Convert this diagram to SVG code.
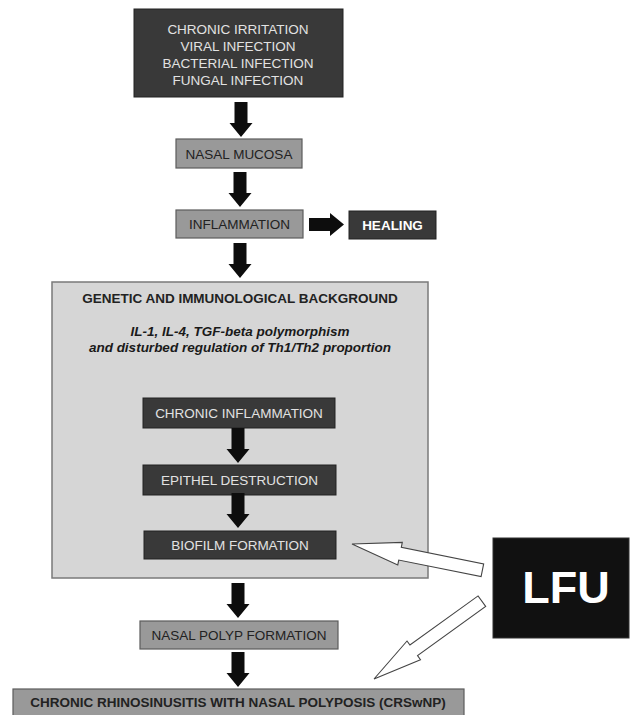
<svg xmlns="http://www.w3.org/2000/svg" xmlns:xlink="http://www.w3.org/1999/xlink" width="633" height="715" viewBox="0 0 633 715">
<style>
  text { font-family: "Liberation Sans", Arial, sans-serif; font-size: 13.5px; text-anchor: middle; }
  .dark { fill: #393939; stroke: #222; stroke-width: 1; }
  .gray { fill: #999; stroke: #5c5c5c; stroke-width: 1.2; }
  .bg { fill: #d6d6d6; stroke: #7a7a7a; stroke-width: 1.5; }
  .lt { fill: #e2e2e2; }
  .dk { fill: #222; }
  .b { font-weight: bold; }
  .bi { font-weight: bold; font-style: italic; fill: #1a1a1a; }
  .solid { fill: #0d0d0d; }
  .hollow { fill: #fff; stroke: #444; stroke-width: 1.1; stroke-linejoin: miter; }
</style>
<defs>
  <path id="darr" d="M-6.5,-35 H6.5 V-14 H11.5 L0,0 L-11.5,-14 H-6.5 Z"/>
  <path id="harr" d="M0,0 L-49,-11.5 L-49,-6.5 L-133,-6.5 L-133,6.5 L-49,6.5 L-49,11.5 Z"/>
</defs>
<rect width="633" height="715" fill="#fff"/>

<g id="bg-box">
  <rect class="bg" x="52" y="282" width="376" height="296"/>
  <text class="b dk" x="240" y="303">GENETIC AND IMMUNOLOGICAL BACKGROUND</text>
  <text class="bi" x="240" y="336">IL-1, IL-4, TGF-beta polymorphism</text>
  <text class="bi" x="240" y="352">and disturbed regulation of Th1/Th2 proportion</text>
</g>

<g id="causes">
  <rect class="dark" x="134" y="9" width="209" height="88"/>
  <text class="lt" x="238" y="33.5">CHRONIC IRRITATION</text>
  <text class="lt" x="238" y="50.5">VIRAL INFECTION</text>
  <text class="lt" x="238" y="67.5">BACTERIAL INFECTION</text>
  <text class="lt" x="238" y="84.5">FUNGAL INFECTION</text>
</g>

<g id="nasal-mucosa">
  <rect class="gray" x="176" y="139" width="126" height="29"/>
  <text class="dk" x="239" y="158.5">NASAL MUCOSA</text>
</g>

<g id="inflammation">
  <rect class="gray" x="176" y="210" width="127" height="28"/>
  <text class="dk" x="239.5" y="229">INFLAMMATION</text>
</g>

<g id="healing">
  <rect class="dark" x="349" y="211" width="87" height="28"/>
  <text class="b" fill="#fff" x="392.5" y="230">HEALING</text>
</g>

<g id="chronic-inflammation">
  <rect class="dark" x="143" y="398" width="192" height="30"/>
  <text class="lt" x="239" y="418">CHRONIC INFLAMMATION</text>
</g>

<g id="epithel-destruction">
  <rect class="dark" x="143" y="465" width="193" height="30"/>
  <text class="lt" x="239.5" y="485">EPITHEL DESTRUCTION</text>
</g>

<g id="biofilm-formation">
  <rect class="dark" x="144" y="531" width="192" height="28"/>
  <text class="lt" x="240" y="550">BIOFILM FORMATION</text>
</g>

<g id="nasal-polyp-formation">
  <rect class="gray" x="140" y="621" width="198" height="28"/>
  <text class="dk" x="239" y="640">NASAL POLYP FORMATION</text>
</g>

<g id="crswnp">
  <rect class="gray" x="13" y="689" width="451" height="30"/>
  <text class="b dk" x="238" y="707">CHRONIC RHINOSINUSITIS WITH NASAL POLYPOSIS (CRSwNP)</text>
</g>

<g id="lfu">
  <rect x="493" y="538" width="136" height="100" fill="#111" stroke="#333" stroke-width="1"/>
  <text class="b" fill="#fff" x="566" y="603" style="font-size:45px">LFU</text>
</g>

<g id="connectors">
  <use xlink:href="#darr" href="#darr" class="solid" transform="translate(241,137)"/>
  <use xlink:href="#darr" href="#darr" class="solid" transform="translate(240,207)"/>
  <use xlink:href="#darr" href="#darr" class="solid" transform="translate(344,224.5) rotate(-90)"/>
  <use xlink:href="#darr" href="#darr" class="solid" transform="translate(240,278)"/>
  <use xlink:href="#darr" href="#darr" class="solid" transform="translate(238,463)"/>
  <use xlink:href="#darr" href="#darr" class="solid" transform="translate(238,528)"/>
  <use xlink:href="#darr" href="#darr" class="solid" transform="translate(238,618)"/>
  <use xlink:href="#darr" href="#darr" class="solid" transform="translate(238,687)"/>
  <use xlink:href="#harr" href="#harr" class="hollow" transform="translate(352,544) rotate(191.4)"/>
  <use xlink:href="#harr" href="#harr" class="hollow" transform="translate(374,679) rotate(144.2)"/>
</g>
</svg>
